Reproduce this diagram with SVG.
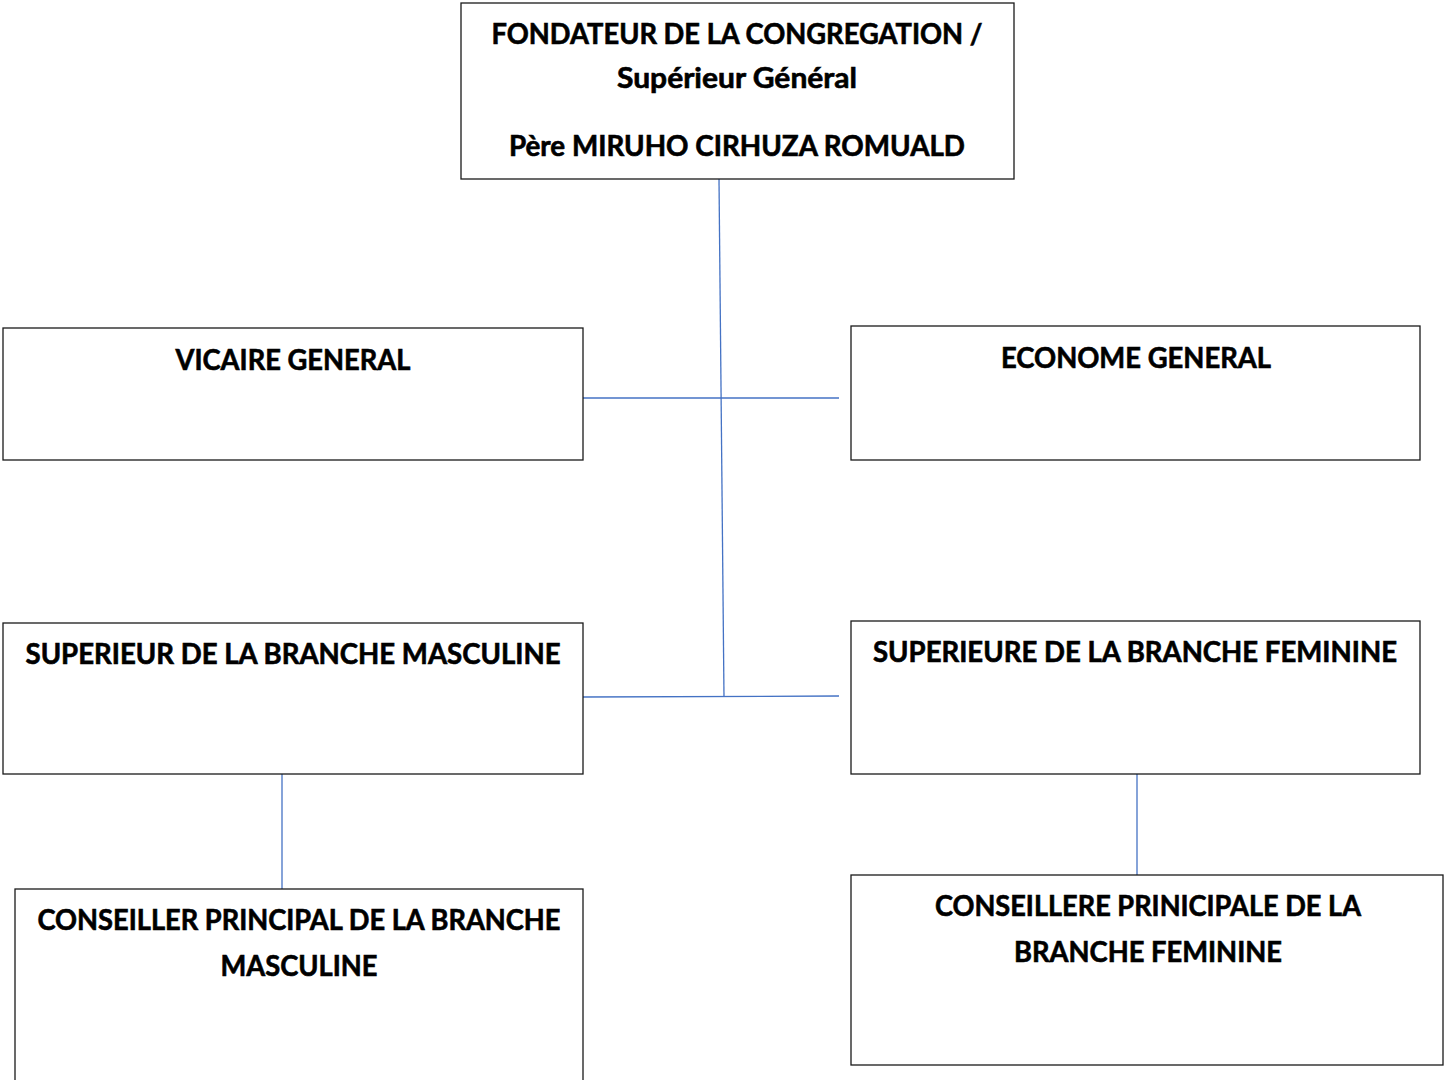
<svg xmlns="http://www.w3.org/2000/svg" width="1444" height="1080" viewBox="0 0 1444 1080">
<style>
.box{fill:#fff;stroke:#1a1a1a;stroke-width:1.3}
.t{font-family:Lato,"Open Sans","Liberation Sans",sans-serif;font-weight:bold;font-size:28px;fill:#000;stroke:#000;stroke-width:0.6;text-anchor:middle}
.c{stroke:#4472C4;stroke-width:1.3;fill:none}
</style>
<rect width="1444" height="1080" fill="#fff"/>
<g id="connectors">
<line class="c" x1="719" y1="179" x2="724" y2="697"/>
<line class="c" x1="583" y1="398" x2="839" y2="398"/>
<line class="c" x1="583" y1="697" x2="839" y2="696"/>
<line class="c" x1="282" y1="774" x2="282" y2="889"/>
<line class="c" x1="1137" y1="774" x2="1137" y2="875"/>
</g>
<g id="fondateur">
<rect class="box" x="461" y="3" width="553" height="176"/>
<text class="t" x="737" y="44" textLength="491" lengthAdjust="spacingAndGlyphs">FONDATEUR DE LA CONGREGATION /</text>
<text class="t" x="737" y="88" textLength="240" lengthAdjust="spacingAndGlyphs">Supérieur Général</text>
<text class="t" x="737" y="156" textLength="456" lengthAdjust="spacingAndGlyphs">Père MIRUHO CIRHUZA ROMUALD</text>
</g>
<g id="vicaire">
<rect class="box" x="3" y="328" width="580" height="132"/>
<text class="t" x="293" y="370" textLength="235" lengthAdjust="spacingAndGlyphs">VICAIRE GENERAL</text>
</g>
<g id="econome">
<rect class="box" x="851" y="326" width="569" height="134"/>
<text class="t" x="1136" y="368" textLength="270" lengthAdjust="spacingAndGlyphs">ECONOME GENERAL</text>
</g>
<g id="sup-masculine">
<rect class="box" x="3" y="623" width="580" height="151"/>
<text class="t" x="293" y="664" textLength="535" lengthAdjust="spacingAndGlyphs">SUPERIEUR DE LA BRANCHE MASCULINE</text>
</g>
<g id="sup-feminine">
<rect class="box" x="851" y="621" width="569" height="153"/>
<text class="t" x="1135" y="662" textLength="524" lengthAdjust="spacingAndGlyphs">SUPERIEURE DE LA BRANCHE FEMININE</text>
</g>
<g id="conseiller-masculine">
<rect class="box" x="15" y="889" width="568" height="200"/>
<text class="t" x="299" y="930" textLength="523" lengthAdjust="spacingAndGlyphs">CONSEILLER PRINCIPAL DE LA BRANCHE</text>
<text class="t" x="299" y="976" textLength="157" lengthAdjust="spacingAndGlyphs">MASCULINE</text>
</g>
<g id="conseillere-feminine">
<rect class="box" x="851" y="875" width="592" height="190"/>
<text class="t" x="1148" y="916" textLength="426" lengthAdjust="spacingAndGlyphs">CONSEILLERE PRINICIPALE DE LA</text>
<text class="t" x="1148" y="962" textLength="268" lengthAdjust="spacingAndGlyphs">BRANCHE FEMININE</text>
</g>
</svg>
